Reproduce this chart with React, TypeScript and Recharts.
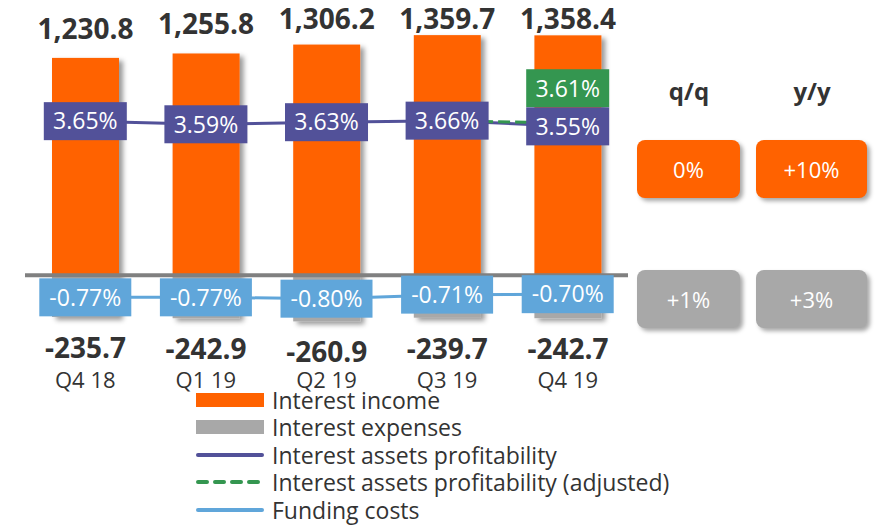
import { ComposedChart, Bar, Line, XAxis, YAxis, ReferenceLine, LabelList } from 'recharts';

const quarters = ['Q4 18', 'Q1 19', 'Q2 19', 'Q3 19', 'Q4 19'];
const interestIncome = [1230.8, 1255.8, 1306.2, 1359.7, 1358.4];
const interestExpenses = [-235.7, -242.9, -260.9, -239.7, -242.7];
const assetsProfitability = [3.65, 3.59, 3.63, 3.66, 3.55];
const assetsProfitabilityAdj = [null, null, null, 3.66, 3.61];
// the adjusted line only carries a label on its last point
const adjustedLabels = [null, null, null, null, 3.61];
const fundingCosts = [-0.77, -0.77, -0.8, -0.71, -0.7];

const changeHeaders = ['q/q', 'y/y'];
const incomeChange = ['0%', '+10%'];
const expensesChange = ['+1%', '+3%'];

const legendItems = [
  { name: 'Interest income', kind: 'bar', color: '#FF6200' },
  { name: 'Interest expenses', kind: 'bar', color: '#A8A8A8' },
  { name: 'Interest assets profitability', kind: 'line', color: '#525199' },
  { name: 'Interest assets profitability (adjusted)', kind: 'dash', color: '#349650' },
  { name: 'Funding costs', kind: 'line', color: '#60A6DA' },
];

const ORANGE = '#FF6200';
const GRAY = '#A8A8A8';
const PURPLE = '#525199';
const GREEN = '#349650';
const BLUE = '#60A6DA';
const TEXT = '#333333';
const FONT = '"Open Sans", sans-serif';

const data = quarters.map((q, i) => ({
  q,
  income: interestIncome[i],
  expenses: interestExpenses[i],
  ap: assetsProfitability[i],
  apAdj: assetsProfitabilityAdj[i],
  fc: fundingCosts[i],
}));

const fmtNum = (v: number) =>
  v.toLocaleString('en-US', { minimumFractionDigits: 1, maximumFractionDigits: 1 });
const fmtPct = (v: number) => v.toFixed(2) + '%';

const ShadowBar = (p: any) => {
  const { x, y, width, height, fill } = p;
  if (x == null || y == null) return null;
  const top = Math.min(y, y + height);
  const h = Math.abs(height);
  return <rect x={x} y={top} width={width} height={h} fill={fill} filter="url(#barShadow)" />;
};

const IncomeLabel = (p: any) => {
  const vb = p.viewBox || p;
  const { x, y, width } = vb;
  const base = Math.max(29, y - 19);
  return (
    <text x={x + width / 2} y={base} textAnchor="middle" fontSize={28} fontWeight={700} fill={TEXT} fontFamily={FONT}>
      {fmtNum(interestIncome[p.index])}
    </text>
  );
};

const ExpenseLabel = (p: any) => {
  const vb = p.viewBox || p;
  const { x, y, width, height } = vb;
  const bottom = Math.max(y, y + height);
  return (
    <text x={x + width / 2} y={bottom + 41} textAnchor="middle" fontSize={28} fontWeight={700} fill={TEXT} fontFamily={FONT}>
      {fmtNum(interestExpenses[p.index])}
    </text>
  );
};

const boxLabel = (values: (number | null)[], color: string, w: number, dy = 0) => (p: any) => {
  const { x, y, index } = p;
  const v = values[index];
  if (v == null || y == null || x == null) return null;
  const cy = y + dy;
  return (
    <g>
      <rect x={x - w / 2} y={cy - 19} width={w} height={38} fill={color} />
      <text x={x} y={cy} dy="0.36em" textAnchor="middle" fill="#fff" fontSize={23} fontFamily={FONT}>
        {fmtPct(v)}
      </text>
    </g>
  );
};

const boxStyle = (left: number, top: number, width: number, bg: string): any => ({
  position: 'absolute',
  left,
  top,
  width,
  height: 58,
  background: bg,
  borderRadius: 8,
  boxShadow: '3px 3px 4px rgba(0,0,0,0.35)',
  color: '#fff',
  fontSize: 22,
  display: 'flex',
  alignItems: 'center',
  justifyContent: 'center',
});

export default function App() {
  const boxLefts = [637, 756];
  const boxWidths = [103, 111];
  const headerCenters = [689, 812];
  return (
    <div style={{ position: 'absolute', left: 0, top: 0, width: 884, height: 526, fontFamily: FONT, background: '#fff' }}>
      <svg width={0} height={0} style={{ position: 'absolute' }}>
        <defs>
          <filter id="barShadow" x="-20%" y="-20%" width="150%" height="150%">
            <feDropShadow dx={4} dy={3} stdDeviation={2.5} floodColor="#000" floodOpacity={0.4} />
          </filter>
        </defs>
      </svg>
      <ComposedChart
        width={884}
        height={526}
        data={data}
        stackOffset="sign"
        margin={{ top: 28, right: 256, bottom: 150, left: 25 }}
      >
        <XAxis
          dataKey="q"
          axisLine={false}
          tickLine={false}
          tickSize={0}
          tickMargin={26}
          interval={0}
          tick={{ fontSize: 22, fill: TEXT, fontFamily: FONT }}
        />
        <YAxis yAxisId="bar" hide domain={[-400, 1400]} allowDataOverflow />
        <YAxis yAxisId="ap" hide domain={[-0.675, 5.442]} allowDataOverflow />
        <YAxis yAxisId="fc" hide domain={[-1.852, 5.217]} allowDataOverflow />
        <Bar yAxisId="bar" dataKey="income" stackId="a" barSize={67} fill={ORANGE} shape={ShadowBar} isAnimationActive={false}>
          <LabelList dataKey="income" content={IncomeLabel} />
        </Bar>
        <Bar yAxisId="bar" dataKey="expenses" stackId="a" barSize={67} fill={GRAY} shape={ShadowBar} isAnimationActive={false}>
          <LabelList dataKey="expenses" content={ExpenseLabel} />
        </Bar>
        <ReferenceLine yAxisId="bar" y={0} stroke="#808080" strokeWidth={4} />
        <Line yAxisId="fc" dataKey="fc" stroke={BLUE} strokeWidth={3} dot={false} activeDot={false} isAnimationActive={false}>
          <LabelList dataKey="fc" content={boxLabel(fundingCosts, BLUE, 92)} />
        </Line>
        <Line yAxisId="ap" dataKey="ap" stroke={PURPLE} strokeWidth={3} dot={false} activeDot={false} isAnimationActive={false} />
        <Line
          yAxisId="ap"
          dataKey="apAdj"
          stroke={GREEN}
          strokeWidth={3}
          strokeDasharray="12 5"
          dot={false}
          activeDot={false}
          connectNulls={false}
          isAnimationActive={false}
        >
          <LabelList dataKey="apAdj" content={boxLabel(adjustedLabels, GREEN, 83, -35)} />
        </Line>
        <Line yAxisId="ap" dataKey="ap" stroke="none" dot={false} activeDot={false} isAnimationActive={false}>
          <LabelList dataKey="ap" content={boxLabel(assetsProfitability, PURPLE, 83)} />
        </Line>
      </ComposedChart>

      {changeHeaders.map((h, i) => (
        <div
          key={h}
          style={{
            position: 'absolute',
            left: headerCenters[i] - 40,
            width: 80,
            top: 74,
            textAlign: 'center',
            fontSize: 24,
            fontWeight: 700,
            color: TEXT,
          }}
        >
          {h}
        </div>
      ))}
      {incomeChange.map((t, i) => (
        <div key={'i' + i} style={boxStyle(boxLefts[i], 140, boxWidths[i], ORANGE)}>
          {t}
        </div>
      ))}
      {expensesChange.map((t, i) => (
        <div key={'e' + i} style={boxStyle(boxLefts[i], 270, boxWidths[i], GRAY)}>
          {t}
        </div>
      ))}

      {legendItems.map((it, i) => (
        <div
          key={it.name}
          style={{
            position: 'absolute',
            left: 196,
            top: 388 + i * 27.4,
            height: 24,
            lineHeight: '24px',
            display: 'flex',
            alignItems: 'center',
            fontSize: 23,
            color: TEXT,
            whiteSpace: 'nowrap',
          }}
        >
          <svg width={68} height={16} style={{ marginRight: 8 }}>
            {it.kind === 'bar' ? (
              <rect x={0} y={1} width={68} height={14} fill={it.color} />
            ) : (
              <line
                x1={2}
                x2={66}
                y1={8}
                y2={8}
                stroke={it.color}
                strokeWidth={4}
                strokeLinecap="round"
                strokeDasharray={it.kind === 'dash' ? '9 8' : undefined}
              />
            )}
          </svg>
          {it.name}
        </div>
      ))}
    </div>
  );
}
